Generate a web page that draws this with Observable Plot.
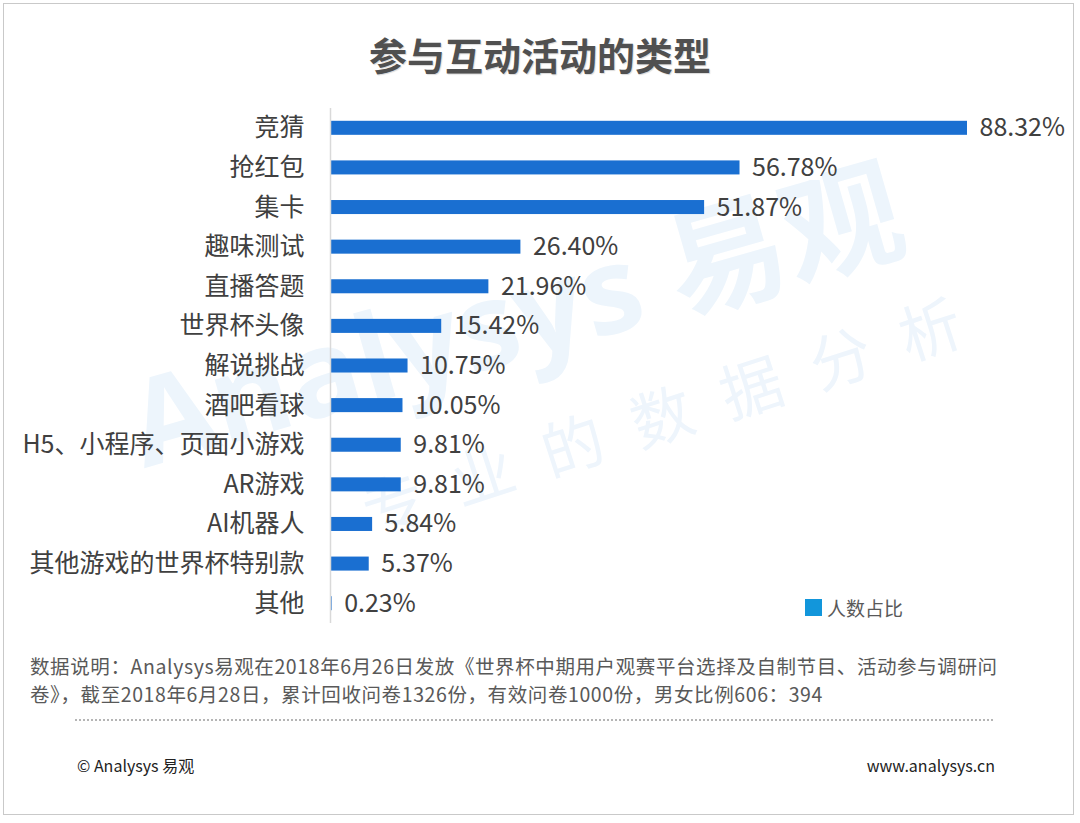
<!DOCTYPE html>
<html>
<head>
<meta charset="utf-8">
<script src="https://cdn.jsdelivr.net/npm/d3@7"></script>
<script src="https://cdn.jsdelivr.net/npm/@observablehq/plot@0.6"></script>
<style>
  html, body { margin: 0; padding: 0; background: #fff; }
  body { width: 1080px; height: 823px; overflow: hidden; font-family: "Microsoft YaHei", "Noto Sans CJK SC", "Noto Sans", sans-serif; }
  #page { position: relative; width: 1080px; height: 823px; }
  #frame { position: absolute; left: 3px; top: 3px; width: 1071px; height: 812px; border: 1px solid #c9c9c9; box-sizing: border-box; }
  #title { position: absolute; left: 0; top: 26px; width: 1080px; text-align: center; font-size: 38px; font-weight: bold; color: #505050; text-shadow: 1px 1px 1px rgba(0,0,0,0.15); }
  #chart { position: absolute; left: 0; top: 0; }
  #wm { position: absolute; left: 0; top: 0; width: 1080px; height: 823px; overflow: hidden; pointer-events: none; }
  .wm1 { position: absolute; left: 515px; top: 314px; font-size: 120px; line-height: 1; font-weight: bold; color: #edf5fc; transform: translate(-50%, -50%) rotate(-16deg); white-space: nowrap; font-family: "Open Sans", "Noto Sans CJK SC", sans-serif; }
  .wm2 { position: absolute; left: 676px; top: 408px; font-size: 62px; line-height: 1; color: #eef5fc; transform: translate(-50%, -50%) rotate(-18deg); white-space: nowrap; letter-spacing: 32px; }
  #legend { position: absolute; left: 805px; top: 594px; display: flex; align-items: center; font-size: 19px; color: #595959; }
  #legend .sw { width: 17px; height: 17px; background: #1296db; margin-right: 5px; }
  .cap { position: absolute; left: 30px; font-size: 19.5px; line-height: 28px; letter-spacing: 0.6px; color: #595959; white-space: nowrap; }
  #cap1 { top: 652px; }
  #cap2 { top: 680px; }
  #dots { position: absolute; left: 75px; top: 719px; width: 918px; border-top: 2px dotted #b5b5b5; }
  #copy { position: absolute; left: 77px; top: 753px; font-size: 16px; color: #222; }
  #site { position: absolute; right: 85px; top: 753px; font-size: 16px; color: #222; }
</style>
</head>
<body>
<div id="page">
  <div id="frame"></div>
  <div id="wm">
    <div class="wm1">Analysys 易观</div>
    <div class="wm2">专业的数据分析</div>
  </div>
  <div id="chart"></div>
  <div id="title">参与互动活动的类型</div>
  <div id="legend"><div class="sw"></div><span>人数占比</span></div>
  <div class="cap" id="cap1">数据说明：Analysys易观在2018年6月26日发放《世界杯中期用户观赛平台选择及自制节目、活动参与调研问</div>
  <div class="cap" id="cap2">卷》，截至2018年6月28日，累计回收问卷1326份，有效问卷1000份，男女比例606：394</div>
  <div id="dots"></div>
  <div id="copy">© Analysys 易观</div>
  <div id="site">www.analysys.cn</div>
</div>
<script>
const categories = ["竞猜","抢红包","集卡","趣味测试","直播答题","世界杯头像","解说挑战","酒吧看球","H5、小程序、页面小游戏","AR游戏","AI机器人","其他游戏的世界杯特别款","其他"];
const values = [88.32,56.78,51.87,26.40,21.96,15.42,10.75,10.05,9.81,9.81,5.84,5.37,0.23];
const valueLabels = ["88.32%","56.78%","51.87%","26.40%","21.96%","15.42%","10.75%","10.05%","9.81%","9.81%","5.84%","5.37%","0.23%"];

const data = categories.map((c, i) => ({category: c, value: values[i], label: valueLabels[i]}));

const chart = Plot.plot({
  width: 1080,
  height: 640,
  marginLeft: 330,
  marginRight: 113,
  marginTop: 108,
  marginBottom: 17,
  style: {background: "transparent", fontFamily: "'Microsoft YaHei', 'Noto Sans CJK SC', 'Noto Sans', sans-serif", fontSize: "25px", color: "#404040"},
  x: {domain: [0, d3.max(values)], axis: null},
  y: {domain: categories, paddingInner: 0.646, paddingOuter: 0.323, round: false, label: null, tickSize: 0, tickPadding: 26},
  marks: [
    Plot.barX(data, {x: "value", y: "category", fill: "#1a6fd1"}),
    Plot.ruleX([0], {stroke: "#d9d9d9", strokeWidth: 1.5}),
    Plot.text(data, {x: "value", y: "category", text: "label", dx: 12, textAnchor: "start", fontSize: 25, fill: "#404040"})
  ]
});
document.getElementById("chart").appendChild(chart);
</script>
</body>
</html>
